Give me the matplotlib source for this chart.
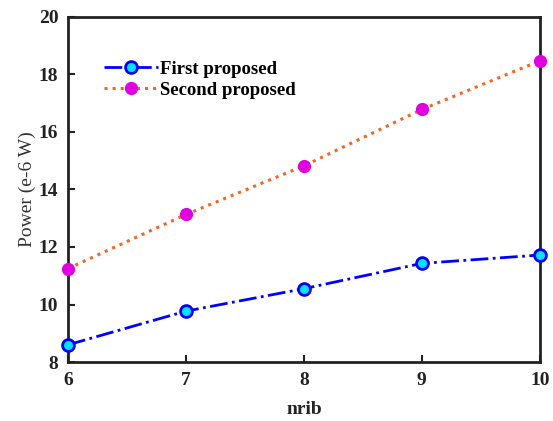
import numpy as np
import matplotlib.pyplot as plt

plt.rcParams['font.family'] = ['Liberation Serif', 'DejaVu Serif']
plt.rcParams['font.weight'] = 'bold'

# data
nrib = [6, 7, 8, 9, 10]
first_proposed = [8.6, 9.77, 10.55, 11.43, 11.72]
second_proposed = [11.25, 13.13, 14.82, 16.78, 18.47]

fig = plt.figure(figsize=(5.53, 4.21), dpi=100)
ax = fig.add_axes([0.123, 0.14, 0.853, 0.82])

ax.plot(nrib, first_proposed, linestyle='-.', color='#0000ff', linewidth=2,
        marker='o', markersize=8.5, markerfacecolor='#00e5ff',
        markeredgecolor='#0000ff', markeredgewidth=2, label='First proposed',
        clip_on=False, zorder=3)
ax.plot(nrib, second_proposed, linestyle=':', color='#f26522', linewidth=2.2,
        marker='o', markersize=8.5, markerfacecolor='#e000e0',
        markeredgecolor='#e000e0', label='Second proposed',
        clip_on=False, zorder=3)

ax.set_xlim(6, 10)
ax.set_ylim(8, 20)
ax.set_xticks(nrib)
ax.set_yticks(np.arange(8, 21, 2))
ax.tick_params(direction='in', length=5, width=1.5, labelsize=14, pad=7,
               colors='#222222')
for s in ax.spines.values():
    s.set_linewidth(2)
    s.set_color('#222222')

ax.set_xlabel('nrib', fontsize=14, fontweight='bold', color='#222222', labelpad=9)
ax.set_ylabel('Power (e-6 W)', fontsize=14, fontweight='normal', color='#333333',
              labelpad=2)

ax.legend(loc='upper left', bbox_to_anchor=(0.06, 0.895), frameon=False,
          fontsize=13.5, handlelength=2.9, labelspacing=0.2, handletextpad=0.1,
          borderaxespad=0)

fig.savefig('out.png', dpi=100)
